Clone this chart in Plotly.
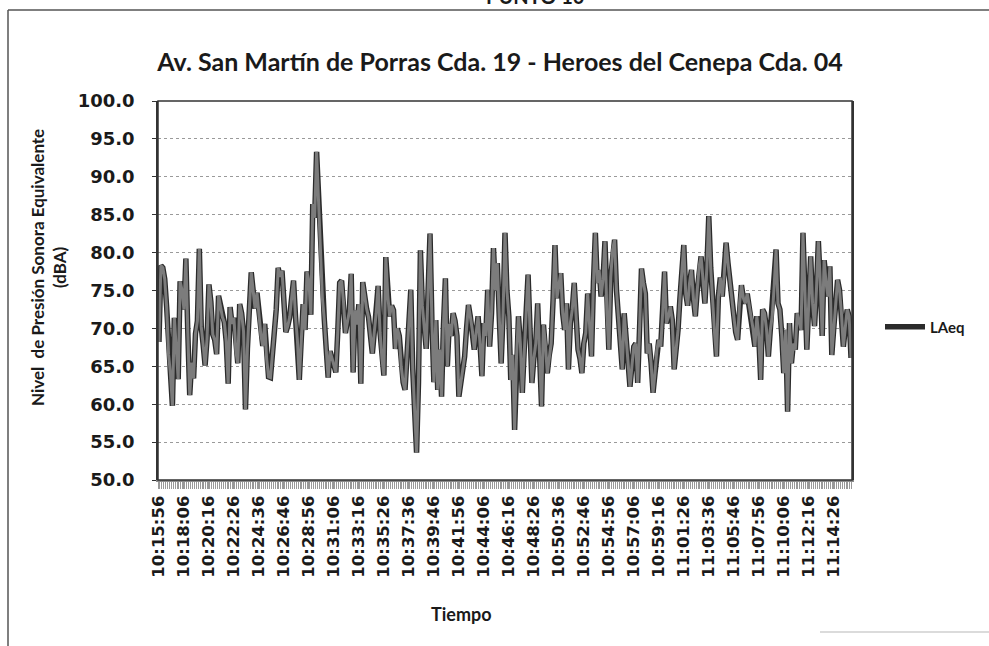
import pandas as pd
import plotly.graph_objects as go

# ---- data ----
start_time = "2024-01-01 10:15:56"
sample_seconds = 10

laeq = [
    68.2, 78.3, 78.0, 76.5, 72.8, 66.5, 64.0, 59.8, 71.4, 68.0,
    63.3, 76.2, 75.0, 72.5, 79.2, 69.5, 61.2, 65.5, 63.4, 69.3,
    71.0, 80.5, 70.2, 67.8, 65.1, 68.6, 75.8, 73.5, 69.2, 68.5,
    66.6, 74.3, 72.8, 71.5, 70.8, 68.2, 62.7, 72.8, 70.6, 71.4,
    67.0, 65.4, 73.2, 72.0, 69.6, 59.3, 67.3, 71.8, 77.4, 75.0,
    72.6, 74.7, 72.3, 69.1, 67.7, 70.6, 66.0, 63.6, 63.5, 66.2,
    69.9, 72.5, 78.0, 76.8, 77.6, 73.0, 69.5, 70.3, 71.5, 74.0,
    76.3, 71.7, 68.5, 63.2, 68.5, 73.2, 69.8, 77.5, 76.2, 71.8,
    86.4, 84.6, 93.3, 87.0, 80.4, 74.0, 71.2, 67.3, 63.5, 67.0,
    66.0, 65.0, 64.2, 69.5, 76.0, 76.3, 73.5, 69.4, 71.0, 72.2,
    77.2, 64.2, 72.4, 70.5, 73.2, 62.7, 76.1, 74.0, 72.6, 71.5,
    69.0, 66.7, 69.5, 72.0, 75.6, 69.5, 66.0, 63.8, 79.4, 74.5,
    71.6, 73.0, 72.4, 67.3, 70.0, 69.0, 65.0, 62.9, 61.9, 66.0,
    70.3, 75.1, 64.7, 59.0, 53.6, 62.9, 80.3, 73.0, 69.5, 67.3,
    75.0, 82.5, 70.7, 62.9, 71.1, 61.9, 67.2, 61.0, 70.5, 76.6,
    65.0, 70.6, 69.0, 72.0, 71.0, 69.0, 61.0, 62.9, 64.5, 66.3,
    70.0, 73.1, 71.5, 69.8, 67.2, 69.5, 71.6, 68.0, 63.7, 70.7,
    69.0, 75.1, 67.6, 72.0, 80.6, 75.0, 78.6, 71.6, 65.4, 72.0,
    82.6, 75.0, 71.6, 63.2, 66.5, 56.6, 66.3, 71.6, 68.0, 61.5,
    67.2, 72.0, 77.1, 70.0, 62.8, 66.0, 68.0, 73.3, 66.0, 59.7,
    70.5, 68.0, 64.1, 66.5, 68.0, 73.7, 81.0, 74.0, 75.5, 77.3,
    72.0, 69.8, 73.3, 64.6, 70.7, 72.5, 76.0, 71.0, 67.2, 66.0,
    64.1, 68.0, 69.4, 74.6, 70.0, 66.3, 76.0, 82.6, 76.0, 77.7,
    74.2, 76.5, 81.5, 72.0, 67.2, 76.7, 80.4, 81.7, 75.0, 71.6,
    68.0, 64.6, 72.0, 68.5, 64.6, 62.3, 65.0, 67.6, 68.0, 62.8,
    70.0, 77.9, 76.0, 74.6, 66.7, 68.0, 65.4, 61.5, 64.0, 67.2,
    68.5, 67.6, 72.0, 77.5, 70.7, 71.5, 72.9, 71.1, 64.6, 67.0,
    69.8, 74.0, 77.3, 81.0, 74.6, 73.0, 76.0, 77.7, 74.0, 71.6,
    75.0, 78.2, 79.5, 76.0, 73.3, 78.0, 84.8, 78.0, 73.3, 69.4,
    66.3, 74.2, 76.7, 74.2, 77.0, 81.3, 78.6, 76.0, 73.3, 71.6,
    69.5, 68.5, 73.3, 75.7, 74.0, 73.3, 74.6, 73.0, 71.6, 70.0,
    67.6, 71.6, 69.0, 63.2, 72.5, 72.0, 70.0, 66.3, 69.8, 71.6,
    75.5, 80.4, 73.3, 72.5, 69.0, 64.1, 69.8, 59.0, 70.7, 65.4,
    68.0, 67.2, 72.0, 71.0, 69.8, 82.6, 75.0, 67.2, 73.3, 79.5,
    73.3, 70.3, 75.0, 81.5, 76.0, 69.0, 79.0, 76.0, 74.2, 78.2,
    66.5, 70.0, 72.9, 76.4, 75.1, 72.0, 67.6, 70.0, 72.5, 71.6,
    66.1,
]

tick_labels = [
    "10:15:56", "10:18:06", "10:20:16", "10:22:26", "10:24:36", "10:26:46",
    "10:28:56", "10:31:06", "10:33:16", "10:35:26", "10:37:36", "10:39:46",
    "10:41:56", "10:44:06", "10:46:16", "10:48:26", "10:50:36", "10:52:46",
    "10:54:56", "10:57:06", "10:59:16", "11:01:26", "11:03:36", "11:05:46",
    "11:07:56", "11:10:06", "11:12:16", "11:14:26",
]

y_ticks = [50, 55, 60, 65, 70, 75, 80, 85, 90, 95, 100]

times = pd.date_range(start_time, periods=len(laeq), freq=f"{sample_seconds}s")
tick_vals = [pd.Timestamp("2024-01-01 " + t) for t in tick_labels]

# ---- figure ----
W, H = 989, 646
L, R, T, B = 158, 852, 101, 480


def px(x):
    return (x - L) / (R - L)


def py(y):
    return (B - y) / (B - T)


fig = go.Figure()
fig.add_trace(go.Scatter(
    x=times, y=laeq, mode="lines", name="LAeq",
    line=dict(color="#2b2b2b", width=5.5), showlegend=True,
))
fig.add_trace(go.Scatter(
    x=times, y=laeq, mode="lines", name="LAeq",
    line=dict(color="#7c7c7c", width=3), showlegend=False, hoverinfo="skip",
))

half = pd.Timedelta(seconds=sample_seconds / 2)

fig.update_layout(
    width=W, height=H,
    margin=dict(l=L, r=W - R, t=T, b=H - B),
    paper_bgcolor="white", plot_bgcolor="white",
    title=dict(
        text="Av. San Martín de Porras Cda. 19 - Heroes del Cenepa Cda. 04",
        x=px(500), xref="paper", xanchor="center",
        y=1 - 62 / H, yref="container", yanchor="middle",
        font=dict(family="Lato", size=25, color="#1a1a1a", weight="bold"),
    ),
    legend=dict(
        x=px(880), y=py(327), xanchor="left", yanchor="middle",
        font=dict(family="Lato", size=15, color="#1a1a1a", weight="bold"),
        bgcolor="rgba(0,0,0,0)", itemwidth=40,
    ),
    xaxis=dict(
        type="date",
        range=[times[0] - half, times[-1] + half],
        tickvals=tick_vals, ticktext=tick_labels, tickangle=-90,
        tickfont=dict(family="DejaVu Sans", size=16.5, color="#1a1a1a", weight="bold"),
        ticks="outside", ticklen=7, tickcolor="#999", tickwidth=1.2,
        minor=dict(dtick=sample_seconds * 1000, ticks="outside", ticklen=7,
                   tickcolor="#999", tickwidth=1.2, showgrid=False),
        showgrid=False, showline=True, linecolor="#8a8a8a", linewidth=2,
        zeroline=False,
    ),
    yaxis=dict(
        range=[50, 100], tickvals=y_ticks,
        ticktext=[f"{v:.1f}" for v in y_ticks],
        tickfont=dict(family="DejaVu Sans", size=18, color="#1a1a1a", weight="bold"),
        ticks="outside", ticklen=4, tickcolor="#333", ticklabelstandoff=14,
        showgrid=True, gridcolor="#9a9a9a", griddash="dot", gridwidth=1,
        showline=True, linecolor="#333", linewidth=1.5, mirror=True,
        zeroline=False,
    ),
    annotations=[
        dict(text="Nivel  de Presión Sonora Equivalente<br>(dBA)",
             x=px(48), y=py(268), xref="paper", yref="paper",
             textangle=-90, showarrow=False, xanchor="center", yanchor="middle",
             font=dict(family="Lato", size=17, color="#1a1a1a", weight="bold")),
        dict(text="Tiempo", x=px(461), y=py(614), xref="paper", yref="paper",
             showarrow=False, xanchor="center", yanchor="middle",
             font=dict(family="Lato", size=18, color="#1a1a1a", weight="bold")),
        dict(text="PUNTO 10", x=px(535), y=py(-4), xref="paper", yref="paper",
             showarrow=False, xanchor="center", yanchor="middle",
             font=dict(family="Lato", size=20, color="#1a1a1a", weight="bold")),
    ],
    shapes=[
        dict(type="line", xref="paper", yref="paper",
             x0=px(8), x1=px(989), y0=py(10), y1=py(10),
             line=dict(color="#555", width=1.5)),
        dict(type="line", xref="paper", yref="paper",
             x0=px(8), x1=px(8), y0=py(10), y1=py(646),
             line=dict(color="#555", width=1.5)),
        dict(type="line", xref="paper", yref="paper",
             x0=px(820), x1=px(989), y0=py(632), y1=py(632),
             line=dict(color="#cfcfcf", width=1.5)),
        dict(type="rect", xref="paper", yref="paper",
             x0=0, x1=1, y0=0, y1=1, line=dict(color="#333", width=1.5)),
    ],
)

fig.write_html(
    "out.html",
    config={"displayModeBar": False},
    post_script="document.body.style.margin='0';document.body.style.overflow='hidden';",
)
